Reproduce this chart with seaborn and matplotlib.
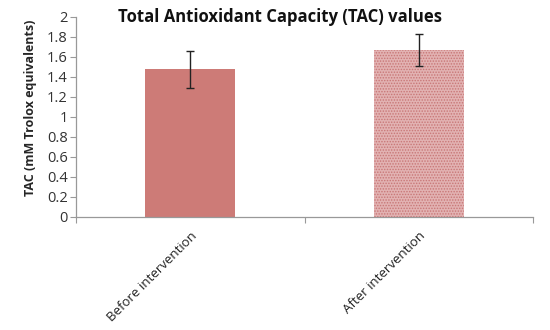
import matplotlib
matplotlib.use("Agg")
import matplotlib.pyplot as plt
import seaborn as sns
import pandas as pd

categories = ["Before intervention", "After intervention"]
values = [1.48, 1.67]
errors = [0.185, 0.16]
y_ticks = [0, 0.2, 0.4, 0.6, 0.8, 1, 1.2, 1.4, 1.6, 1.8, 2]
y_tick_labels = ["0", "0.2", "0.4", "0.6", "0.8", "1", "1.2", "1.4", "1.6", "1.8", "2"]

sns.set_style("white")
plt.rcParams["font.family"] = ["Open Sans", "DejaVu Sans"]
plt.rcParams["hatch.linewidth"] = 0.7

df = pd.DataFrame({"cat": categories, "val": values})

fig = plt.figure(figsize=(5.5, 3.3), dpi=100)
ax = fig.add_axes([76/550, 1 - 217/330, (533-76)/550, (217-17)/330])

sns.barplot(data=df, x="cat", y="val", ax=ax, width=0.394, errorbar=None,
            color="#cd7b77", saturation=1)
bars = ax.patches
bars[0].set_facecolor("#cd7b77")
bars[0].set_edgecolor("none")
bars[1].set_facecolor("#e2b2b2")
bars[1].set_edgecolor("#c87676")
bars[1].set_hatch("......")
bars[1].set_linewidth(0)

ax.errorbar(range(len(categories)), values, yerr=errors, fmt="none",
            ecolor="#222222", elinewidth=1, capsize=3, capthick=1)

ax.set_xlim(-0.5, 1.5)
ax.set_ylim(0, 2)
ax.set_yticks(y_ticks)
ax.set_yticklabels(y_tick_labels, fontsize=10.5, color="#333333")
ax.set_xticks([-0.5, 0.5, 1.5], minor=False)
ax.set_xticklabels([])
ax.set_xticks([0, 1], minor=True)
ax.set_xticklabels(categories, minor=True, rotation=45, ha="right",
                   rotation_mode="anchor", fontsize=9.5, color="#222222")
ax.tick_params(axis="x", which="minor", length=0, pad=9)
ax.tick_params(axis="x", which="major", length=4, color="#999999", direction="out", bottom=True)
ax.tick_params(axis="y", length=4, color="#999999", direction="out", left=True, pad=2)

for s in ["top", "right"]:
    ax.spines[s].set_visible(False)
for s in ["left", "bottom"]:
    ax.spines[s].set_color("#999999")
    ax.spines[s].set_linewidth(0.9)

ax.set_xlabel("")
ax.set_ylabel("TAC (mM Trolox equivalents)", fontsize=9, fontweight="bold", labelpad=3)
ax.yaxis.set_label_coords(-0.085, 0.545)
fig.text(280/550, 1 - 17/330, "Total Antioxidant Capacity (TAC) values",
         fontsize=12, fontweight="bold", ha="center", va="center", color="#111111")

fig.savefig("out.png", dpi=100)
